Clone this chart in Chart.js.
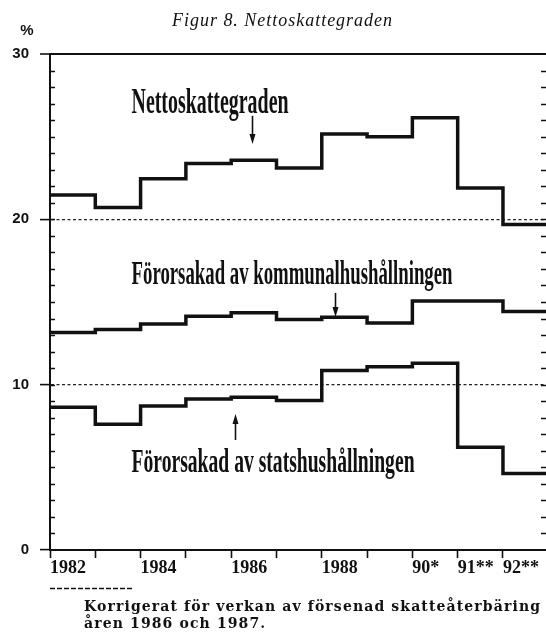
<!DOCTYPE html>
<html><head><meta charset="utf-8">
<script src="https://cdn.jsdelivr.net/npm/chart.js@4/dist/chart.umd.min.js"></script>
<style>html,body{margin:0;padding:0;background:#fff;}canvas{display:block;}</style>
</head><body>
<canvas id="c" width="546" height="636"></canvas>
<script>
// ---- data (per cent) ----
const years = [1982,1983,1984,1985,1986,1987,1988,1989,1990,1991,1992];
const nettoskattegraden = [21.47,20.71,22.45,23.37,23.57,23.10,25.16,25.00,26.15,21.90,19.69];
const kommunalhushallningen = [13.16,13.33,13.67,14.14,14.35,13.94,14.08,13.73,15.06,15.06,14.43];
const statshushallningen = [8.63,7.61,8.71,9.14,9.24,9.04,10.86,11.08,11.29,6.22,4.63];
const labelYears = [1982,1984,1986,1988,1990,1991,1992];
const labelTexts = ['1982','1984','1986','1988','90*','91**','92**'];
const yLabelValues = [0,10,20,30];
const X_MIN = 1982, X_MAX = 1992.95, Y_MIN = 0, Y_MAX = 30;

function steps(vals){
  const pts = years.map((x,i)=>({x, y: vals[i]}));
  pts.push({x: X_MAX, y: vals[vals.length-1]});
  return pts;
}
function ds(label, vals){
  return {label, data: steps(vals), stepped: true, borderColor:'#111', borderWidth:3.5,
    pointRadius:0, fill:false, borderJoinStyle:'miter', borderCapStyle:'butt', clip:false};
}

// draws text starting at x on baseline y, fitted to width; returns the fit used
function fitText(ctx, text, x, y, width, font, fit){
  ctx.save();
  ctx.font = font;
  ctx.textAlign = 'left';
  ctx.textBaseline = 'alphabetic';
  if (!fit) {
    const nat = ctx.measureText(text).width;
    if (nat < width && 'letterSpacing' in ctx) fit = {sp: (width - nat) / (text.length - 1), k: 1};
    else fit = {sp: 0, k: width / nat};
  }
  if (fit.sp && 'letterSpacing' in ctx) ctx.letterSpacing = fit.sp + 'px';
  ctx.translate(x, y);
  ctx.scale(fit.k, 1);
  ctx.fillText(text, 0, 0);
  ctx.restore();
  return fit;
}
function arrow(ctx, x, yFrom, yTip){
  const dir = yTip > yFrom ? 1 : -1;
  ctx.save();
  ctx.strokeStyle = '#111'; ctx.fillStyle = '#111'; ctx.lineWidth = 1.6;
  ctx.beginPath(); ctx.moveTo(x, yFrom); ctx.lineTo(x, yTip - dir*8); ctx.stroke();
  ctx.beginPath(); ctx.moveTo(x, yTip); ctx.lineTo(x-3, yTip - dir*10); ctx.lineTo(x+3, yTip - dir*10); ctx.closePath(); ctx.fill();
  ctx.restore();
}

const decor = {
  id: 'decor',
  afterDraw(chart){
    const {ctx, chartArea: a, scales: {x, y}} = chart;
    // minor inward ticks on both sides
    ctx.save();
    ctx.strokeStyle = '#111'; ctx.lineWidth = 1.5;
    for (let v = Y_MIN + 1; v < Y_MAX; v++) {
      const py = Math.round(y.getPixelForValue(v)) + 0.5;
      ctx.beginPath(); ctx.moveTo(a.left, py); ctx.lineTo(a.left + 5, py); ctx.stroke();
      ctx.beginPath(); ctx.moveTo(a.right - 5, py); ctx.lineTo(a.right, py); ctx.stroke();
    }
    ctx.restore();

    ctx.fillStyle = '#111';
    // title
    fitText(ctx, 'Figur 8. Nettoskattegraden', 172, 25.5, 220, 'italic 18px "Liberation Serif", serif');
    // unit
    ctx.save();
    ctx.font = 'bold 15px "Liberation Sans", sans-serif';
    ctx.textAlign = 'center'; ctx.textBaseline = 'middle';
    ctx.fillText('%', 27, 31);
    ctx.restore();

    // series annotations (anchored in data units)
    const notes = [
      {t:'Nettoskattegraden', x:1983.8, y:26.44, w:157, f:'bold 36px "Liberation Serif", serif'},
      {t:'Förorsakad av kommunalhushållningen', x:1983.8, y:16.09, w:321, f:'bold 33px "Liberation Serif", serif'},
      {t:'Förorsakad av statshushållningen', x:1983.8, y:4.72, w:283, f:'bold 33px "Liberation Serif", serif'}
    ];
    notes.forEach(n => fitText(ctx, n.t, x.getPixelForValue(n.x), y.getPixelForValue(n.y), n.w, n.f));
    const arrows = [
      {x:1986.47, from:26.26, tip:24.56},
      {x:1988.30, from:15.55, tip:14.10},
      {x:1986.09, from:6.65, tip:8.23}
    ];
    arrows.forEach(r => arrow(ctx, Math.round(x.getPixelForValue(r.x)) + 0.5, y.getPixelForValue(r.from), y.getPixelForValue(r.tip)));

    // footnote
    ctx.save();
    ctx.strokeStyle = '#111'; ctx.lineWidth = 1.5; ctx.setLineDash([5,2]);
    ctx.beginPath(); ctx.moveTo(50, 588.5); ctx.lineTo(134, 588.5); ctx.stroke();
    ctx.restore();
    const fnFont = 'bold 14px "DejaVu Serif", serif';
    const fit = fitText(ctx, 'Korrigerat för verkan av försenad skatteåterbäring', 84, 611, 456, fnFont);
    fitText(ctx, 'åren 1986 och 1987.', 84, 628, 0, fnFont, fit);
  }
};

new Chart(document.getElementById('c'), {
  type: 'line',
  data: { datasets: [
    ds('Nettoskattegraden', nettoskattegraden),
    ds('Förorsakad av kommunalhushållningen', kommunalhushallningen),
    ds('Förorsakad av statshushållningen', statshushallningen)
  ]},
  options: {
    responsive: false, animation: false, devicePixelRatio: 1,
    layout: { padding: { top: 54, right: 0, bottom: 56, left: 0 } },
    plugins: { legend: { display: false }, title: { display: false }, tooltip: { enabled: false } },
    scales: {
      x: {
        type: 'linear', min: X_MIN, max: X_MAX, position: 'bottom',
        afterBuildTicks: s => { s.ticks = []; for (let v = X_MIN; v <= X_MAX; v++) s.ticks.push({value: v}); },
        afterFit: s => { s.height = 30; s.paddingLeft = 0; s.paddingRight = 0; },
        ticks: {
          autoSkip: false, maxRotation: 0, minRotation: 0, align: 'start', padding: 0, color: '#111',
          font: { family: '"Liberation Serif", serif', size: 18, weight: 'bold' },
          callback: v => { const i = labelYears.indexOf(v); return i >= 0 ? labelTexts[i] : ''; }
        },
        grid: { drawOnChartArea: false, drawTicks: true, tickLength: 8, tickColor: '#111', tickWidth: 1.6 },
        border: { display: true, color: '#111', width: 2 }
      },
      y: {
        type: 'linear', min: Y_MIN, max: Y_MAX, position: 'left',
        afterBuildTicks: s => { s.ticks = []; for (let v = Y_MIN; v <= Y_MAX; v++) s.ticks.push({value: v}); },
        afterFit: s => { s.width = 50; s.paddingTop = 0; s.paddingBottom = 0; },
        ticks: {
          autoSkip: false, padding: 11, color: '#111',
          font: { family: '"Liberation Sans", Arial, sans-serif', size: 15, weight: 'bold' },
          callback: v => yLabelValues.includes(v) ? String(v) : ''
        },
        grid: {
          drawOnChartArea: true, drawTicks: true, tickLength: 10,
          color: c => { const v = c.tick && c.tick.value; return (v === 10 || v === 20) ? '#222' : (v === 30 ? '#111' : 'rgba(0,0,0,0)'); },
          lineWidth: c => (c.tick && c.tick.value === 30) ? 2 : 1.2,
          tickColor: c => (c.tick && yLabelValues.includes(c.tick.value)) ? '#111' : 'rgba(0,0,0,0)',
          tickWidth: 1.6, tickBorderDash: []
        },
        border: {
          display: true, color: '#111', width: 2,
          dash: c => (c.tick && (c.tick.value === 10 || c.tick.value === 20)) ? [3, 2.5] : []
        }
      }
    }
  },
  plugins: [decor]
});
</script>
</body></html>
